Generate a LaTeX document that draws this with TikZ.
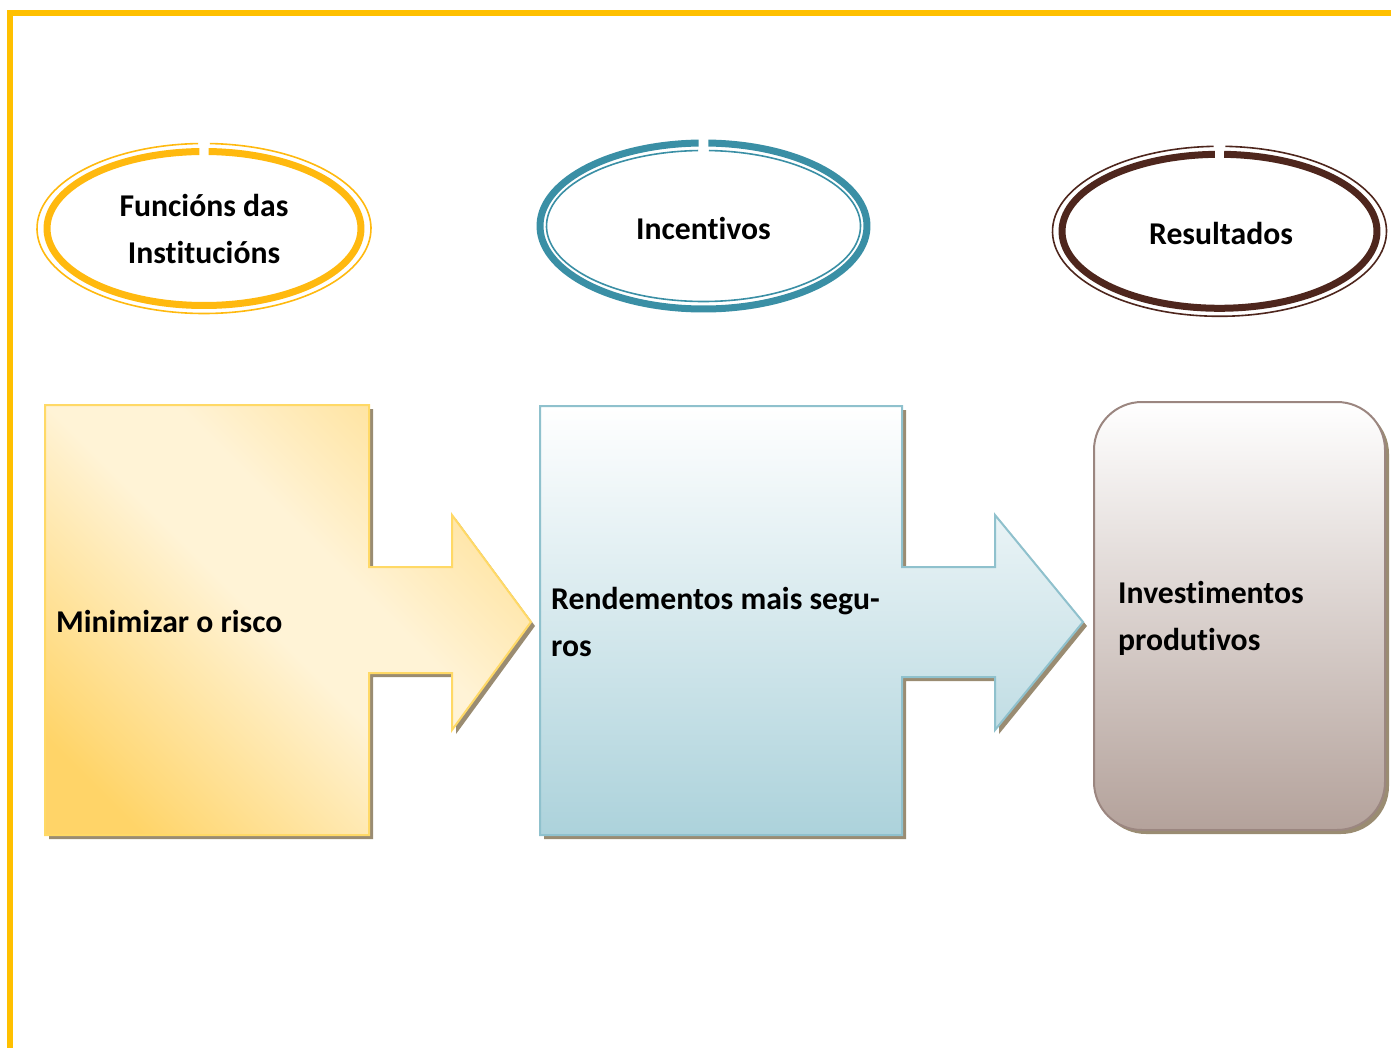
\documentclass[tikz,border=0pt]{standalone}
\usepackage{fontspec}
\setmainfont[RawFeature={-liga;-clig;-calt;-dlig}]{Carlito}
\usetikzlibrary{shadows}
\newcommand{\nolig}{\kern0pt }
\definecolor{bordery}{HTML}{FFC000}
\definecolor{ringY}{HTML}{FFB90F}
\definecolor{ringT}{HTML}{3A8FA5}
\definecolor{ringB}{HTML}{4E261D}
\definecolor{ylight}{HTML}{FFF3D6}
\definecolor{ydark}{HTML}{FFD468}
\definecolor{ymid}{HTML}{FFDD8A}
\definecolor{yline}{HTML}{FFD966}
\definecolor{bbot}{HTML}{ACD2DB}
\definecolor{bline}{HTML}{8FC1CD}
\definecolor{rbot}{HTML}{B4A29B}
\definecolor{rline}{HTML}{9B8680}
\definecolor{shadowc}{HTML}{9A8C72}
\pgfdeclareverticalshading{ydiag}{100bp}{color(0bp)=(ydark); color(22bp)=(ydark); color(48bp)=(ylight); color(58bp)=(ylight); color(80bp)=(ymid); color(100bp)=(ymid)}
\begin{document}
\begin{tikzpicture}[x=1pt,y=-1pt,
  lbl/.style={font=\fontsize{31.7}{47}\selectfont\bfseries, inner sep=0pt},
  thickring/.style={line width=7pt},
  thinring/.style={line width=1.6pt},
  shapeshadow/.style={drop shadow={shadow xshift=4pt, shadow yshift=-4pt, fill=shadowc, opacity=1}},
  frame/.style={line width=6pt, bordery}]
\useasboundingbox (0,0) rectangle (1391,1048);
% page frame
\draw[frame] (9.7,1048) -- (9.7,13) -- (1391,13);

% ellipse 1 (yellow): thin outside, thick inside
\draw[thinring, ringY] (204,228.5) ++(-88:167 and 85) arc[start angle=-88, end angle=268, x radius=167, y radius=85];
\draw[thickring, ringY] (204,228.5) ++(-88.3:157 and 77) arc[start angle=-88.3, end angle=268.3, x radius=157, y radius=77];
% ellipse 2 (teal): thick outside, thin inside
\draw[thickring, ringT] (703.5,226) ++(-88.3:163.5 and 83) arc[start angle=-88.3, end angle=268.3, x radius=163.5, y radius=83];
\draw[thinring, ringT] (703.5,226) ++(-88:157 and 75.5) arc[start angle=-88, end angle=268, x radius=157, y radius=75.5];
% ellipse 3 (brown): thin outside, thick inside
\draw[thinring, ringB] (1219.5,231.3) ++(-88:167 and 85) arc[start angle=-88, end angle=268, x radius=167, y radius=85];
\draw[thickring, ringB] (1219.5,231.3) ++(-88.3:157.5 and 77) arc[start angle=-88.3, end angle=268.3, x radius=157.5, y radius=77];

\node[lbl, align=center] (funcions) at (204,229) {Funcións das\\Insti\nolig tucións};
\node[lbl] (incentivos) at (703.5,228) {Incent\nolig ivos};
\node[lbl] (resultados) at (1221,233) {Resultados};

% yellow arrow shape
\path[shapeshadow, shading=ydiag, shading angle=-45, draw=yline, line width=2pt]
  (45,405) -- (369,405) -- (369,567) -- (452,567) -- (452,515) -- (531,622)
  -- (452,730) -- (452,673) -- (369,673) -- (369,835) -- (45,835) -- cycle;
% blue arrow shape
\path[shapeshadow, top color=white, bottom color=bbot, draw=bline, line width=2pt]
  (540,406) -- (902,406) -- (902,567) -- (995,567) -- (995,515) -- (1083,622)
  -- (995,730) -- (995,677) -- (902,677) -- (902,835) -- (540,835) -- cycle;
% rounded box
\path[shapeshadow, top color=white, bottom color=rbot, draw=rline, line width=2pt, rounded corners=48pt]
  (1094,402) rectangle (1385,830);

\node[lbl, anchor=west] (risco) at (56,621) {Minimizar o risco};
\node[lbl, anchor=west, align=left] (rendementos) at (551,622) {Rendementos mais segu-\\ros};
\node[lbl, anchor=west, align=left] (investimentos) at (1118,618) {Invest\nolig imentos\\produt\nolig ivos};
\end{tikzpicture}
\end{document}
